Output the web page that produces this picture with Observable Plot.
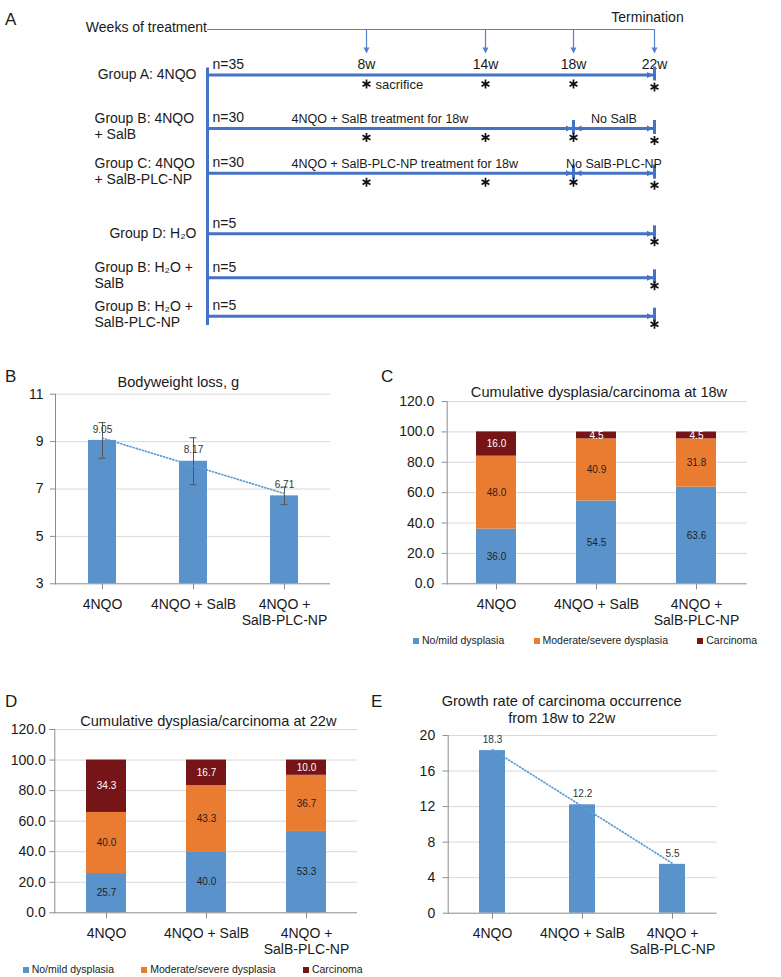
<!DOCTYPE html>
<html><head><meta charset="utf-8">
<script src="https://cdn.jsdelivr.net/npm/d3@7"></script>
<script src="https://cdn.jsdelivr.net/npm/@observablehq/plot@0.6"></script>
<style>
body{margin:0;background:#fff;}
#page{position:relative;width:781px;height:977px;overflow:hidden;font-family:"Liberation Sans",Arial,Helvetica,sans-serif;color:#1a1a1a;background:#fff;}
#page svg{overflow:visible;}
.letter{position:absolute;font-size:17px;line-height:17px;}
.title{position:absolute;font-size:14.6px;line-height:16px;text-align:center;white-space:nowrap;transform:translateX(-50%);}
.legend{position:absolute;display:flex;justify-content:space-between;font-size:10.5px;line-height:12px;white-space:nowrap;}
.legend .sw{display:inline-block;width:6px;height:6px;margin-right:3px;vertical-align:0px;}
</style></head>
<body><div id="page"></div>
<script>
// ---------------- data ----------------
// Panel A: study design
const groupLabels = ["Group A: 4NQO", "Group B: 4NQO\n+ SalB", "Group C: 4NQO\n+ SalB-PLC-NP", "Group D: H₂O", "Group B: H₂O +\nSalB", "Group B: H₂O +\nSalB-PLC-NP"];
const groupN = [35, 30, 30, 5, 5, 5];
const weekMarks = [8, 14, 18, 22];
const weekLabels = ["8w", "14w", "18w", "22w"];
const terminationWeek = 22;
const groupSchedule = [[0, 22], [0, 18, 22], [0, 18, 22], [0, 22], [0, 22], [0, 22]];
const segmentLabels = [[""], ["4NQO + SalB treatment for 18w", "No SalB"], ["4NQO + SalB-PLC-NP treatment for 18w", "No SalB-PLC-NP"], [""], [""], [""]];
const sacrificeWeeks = [[8, 14, 18, 22], [8, 14, 18, 22], [8, 14, 18, 22], [22], [22], [22]];

// Panel B
const treatGroups = ["4NQO", "4NQO + SalB", "4NQO +\nSalB-PLC-NP"];
const bwLoss = [9.05, 8.17, 6.71];
const bwErr = [0.75, 0.99, 0.37];
const bwTicks = [3, 5, 7, 9, 11];

// Panels C / D
const stages = ["No/mild dysplasia", "Moderate/severe dysplasia", "Carcinoma"];
const w18NoMild = [36.0, 54.5, 63.6];
const w18Moderate = [48.0, 40.9, 31.8];
const w18Carcinoma = [16.0, 4.5, 4.5];
const w22NoMild = [25.7, 40.0, 53.3];
const w22Moderate = [40.0, 43.3, 36.7];
const w22Carcinoma = [34.3, 16.7, 10.0];
const pctTicks = [0, 20, 40, 60, 80, 100, 120];

// Panel E
const growthRate = [18.3, 12.2, 5.5];
const growthTicks = [0, 4, 8, 12, 16, 20];

// ---------------- styles ----------------
const FONT = '"Liberation Sans", Arial, Helvetica, sans-serif';
const LINE_BLUE = "#4472C4";
const HEAD_BLUE = "#5482CF";
const BAR_BLUE = "#5A93CB";
const stageColors = ["#5A93CB", "#E97C31", "#761517"];
const AXIS = "#8c8c8c";
const GRID = "#d9d9d9";
const TREND = "#5B9BD5";
const page = document.getElementById("page");

function place(el, left, top) {
  el.style.position = "absolute"; el.style.left = left + "px"; el.style.top = top + "px";
  page.appendChild(el);
}
function div(cls, text, left, top) {
  const d = document.createElement("div"); d.className = cls; d.textContent = text;
  place(d, left, top); return d;
}

// custom arrowhead symbols (tip at origin)
const triRight = {draw(c, s) {const r = Math.sqrt(s / Math.PI); c.moveTo(0, 0); c.lineTo(-2 * r, -r); c.lineTo(-2 * r, r); c.closePath();}};
const triLeft = {draw(c, s) {const r = Math.sqrt(s / Math.PI); c.moveTo(0, 0); c.lineTo(2 * r, -r); c.lineTo(2 * r, r); c.closePath();}};
const triDown = {draw(c, s) {const r = Math.sqrt(s / Math.PI) * 1.15; c.moveTo(0, 0); c.lineTo(-r, -2 * r); c.lineTo(r, -2 * r); c.closePath();}};

// ---------------- Panel A ----------------
const rows = d3.range(groupLabels.length);
const segs = [];
groupSchedule.forEach((bp, r) => { for (let k = 0; k < bp.length - 1; k++) segs.push({row: r, from: bp[k], to: bp[k + 1], text: segmentLabels[r][k] || ""}); });
const samples = [];
sacrificeWeeks.forEach((ws, r) => ws.forEach(w => samples.push({row: r, week: w})));
const astOpts = {x: "week", y: "row", symbol: "asterisk", r: 4.3, stroke: "#111", strokeWidth: 1.7, fill: "none"};

const panelA = Plot.plot({
  width: 781, height: 340, margin: 0,
  x: {type: "linear", domain: [0, 8, 14, 18, 22], range: [207, 366, 485, 573, 654], axis: null},
  y: {type: "linear", domain: [-1, 0, 1, 2, 3, 4, 5], range: [29, 74.5, 128, 172.7, 233.3, 277.3, 315.7], axis: null},
  style: {fontFamily: FONT, fontSize: "14px", color: "#1a1a1a", background: "transparent"},
  marks: [
    Plot.ruleY([-1], {x1: 0, x2: terminationWeek, stroke: HEAD_BLUE, strokeWidth: 1.2}),
    Plot.ruleX(weekMarks, {x: d => d, y1: -1, y2: -1, insetBottom: -19, stroke: HEAD_BLUE, strokeWidth: 1.2}),
    Plot.dot(weekMarks, {x: d => d, y: -1, dy: 24, symbol: triDown, r: 2.6, fill: HEAD_BLUE, stroke: "none"}),
    Plot.text(["Weeks of treatment"], {x: 0, y: -1, textAnchor: "end", dx: -0.5, dy: -1.5, fontSize: 14}),
    Plot.text(["Termination"], {x: terminationWeek, y: -1, dx: -7, dy: -12, fontSize: 14}),
    Plot.text(weekLabels, {x: (d, i) => weekMarks[i], y: 0, dy: -10.5, fontSize: 14}),
    Plot.ruleX([0], {y1: 0, y2: rows.length - 1, insetTop: -7, insetBottom: -9.3, stroke: LINE_BLUE, strokeWidth: 3}),
    Plot.ruleY(segs, {y: "row", x1: "from", x2: "to", stroke: LINE_BLUE, strokeWidth: 3}),
    Plot.ruleX(segs, {x: "to", y1: "row", y2: "row", insetTop: -8, insetBottom: -6, stroke: LINE_BLUE, strokeWidth: 3}),
    Plot.dot(segs, {x: "to", y: "row", dx: -1.5, symbol: triRight, r: 3, fill: LINE_BLUE, stroke: "none"}),
    Plot.dot(segs.filter(s => s.from > 0), {x: "from", y: "row", dx: 2, symbol: triLeft, r: 3, fill: LINE_BLUE, stroke: "none"}),
    Plot.text(segs.filter(s => s.from === 0 && s.text), {x: "from", y: "row", text: "text", textAnchor: "start", dx: 84, dy: -9.5, fontSize: 12.5}),
    Plot.text(segs.filter(s => s.from > 0 && s.text), {x: s => (s.from + s.to) / 2, y: "row", text: "text", dy: -9.5, fontSize: 12.5}),
    Plot.text(rows.filter(r => !groupLabels[r].includes("\n")), {x: 0, y: r => r, text: r => groupLabels[r], textAnchor: "end", dx: -11, dy: -0.5, fontSize: 14}),
    Plot.text(rows.filter(r => groupLabels[r].includes("\n")), {x: 0, y: r => r, text: r => groupLabels[r], textAnchor: "start", dx: -113, dy: -2.5, lineHeight: 1.13, fontSize: 14}),
    Plot.text(rows, {x: 0, y: r => r, text: r => "n=" + groupN[r], textAnchor: "start", dx: 5, dy: -10.5, fontSize: 14}),
    Plot.dot(samples.filter(s => s.week < terminationWeek), {...astOpts, dy: 9}),
    Plot.dot(samples.filter(s => s.week === terminationWeek && s.row < 3), {...astOpts, dy: 12}),
    Plot.dot(samples.filter(s => s.week === terminationWeek && s.row >= 3), {...astOpts, dy: 8}),
    Plot.text(["sacrifice"], {x: weekMarks[0], y: 0, textAnchor: "start", dx: 9, dy: 9.5, fontSize: 13})
  ]
});
place(panelA, 0, 0);
div("letter", "A", 5, 10.8);

// ---------------- helpers ----------------
function axesMarks(ticks, fmt, yMin, tickPadding) {
  return [
    Plot.ruleY([yMin], {stroke: AXIS}),
    Plot.frame({anchor: "left", stroke: AXIS}),
    Plot.axisY({ticks, tickFormat: fmt, tickSize: 5, tickPadding, fontSize: 14, stroke: AXIS, label: null}),
    Plot.axisX({tickSize: 6, tickPadding: 8, fontSize: 14, lineHeight: 1.12, stroke: AXIS, label: null})
  ];
}
function trendOf(values) {
  const xs = values.map((_, i) => i);
  const mx = d3.mean(xs), my = d3.mean(values);
  const slope = d3.sum(xs, (x, i) => (x - mx) * (values[i] - my)) / d3.sum(xs, x => (x - mx) ** 2);
  return treatGroups.map((g, i) => ({g, fit: my + slope * (i - mx)}));
}
const trendStyle = {stroke: TREND, strokeWidth: 1.7, strokeDasharray: "1,2.2", strokeLinecap: "round"};
const baseStyle = {fontFamily: FONT, fontSize: "14px", color: "#1a1a1a", background: "transparent"};

// ---------------- Panel B ----------------
const bwData = treatGroups.map((g, i) => ({g, v: bwLoss[i], e: bwErr[i]}));
const panelB = Plot.plot({
  width: 345, height: 270, marginLeft: 55, marginRight: 15, marginTop: 33.7, marginBottom: 46.7,
  x: {domain: treatGroups, range: [55, 330], paddingInner: 0.695, paddingOuter: 0.3475},
  y: {domain: [bwTicks[0], bwTicks[bwTicks.length - 1]]},
  style: baseStyle,
  marks: [
    Plot.gridY(bwTicks.slice(1), {stroke: GRID, strokeOpacity: 1}),
    Plot.barY(bwData, {x: "g", y1: bwTicks[0], y2: "v", fill: BAR_BLUE}),
    Plot.ruleX(bwData, {x: "g", y1: d => d.v - d.e, y2: d => d.v + d.e, stroke: "#555", strokeWidth: 1}),
    Plot.tickY(bwData, {x: "g", y: d => d.v + d.e, stroke: "#555", insetLeft: 10.5, insetRight: 10.5}),
    Plot.tickY(bwData, {x: "g", y: d => d.v - d.e, stroke: "#555", insetLeft: 10.5, insetRight: 10.5}),
    Plot.line(trendOf(bwLoss), {x: "g", y: "fit", ...trendStyle}),
    Plot.text(bwData, {x: "g", y: "v", text: d => d.v.toFixed(2), dy: -11, fontSize: 10, fill: "#333"}),
    ...axesMarks(bwTicks, d => String(d), bwTicks[0], 7)
  ]
});
place(panelB, 0, 360);
div("letter", "B", 5, 368);
div("title", "Bodyweight loss, g", 178.3, 373.5);

// ---------------- Panels C / D (stacked) ----------------
function stackRows(seriesArrays) {
  const out = [];
  treatGroups.forEach((g, i) => {
    let acc = 0;
    seriesArrays.forEach((arr, j) => { out.push({g, series: stages[j], y1: acc, y2: acc + arr[i], v: arr[i]}); acc += arr[i]; });
  });
  return out;
}
function stackedPlot(stacked, opts) {
  return Plot.plot({
    width: 390, height: opts.height, marginLeft: opts.ml, marginRight: 390 - opts.gridEnd, marginTop: opts.mt, marginBottom: opts.mb,
    x: {domain: treatGroups, range: opts.xr, paddingInner: 0.6, paddingOuter: 0.3},
    y: {domain: [0, 120]},
    color: {domain: stages, range: stageColors},
    style: baseStyle,
    marks: [
      Plot.gridY(pctTicks.slice(1), {stroke: GRID, strokeOpacity: 1}),
      Plot.barY(stacked, {x: "g", y1: "y1", y2: "y2", fill: "series"}),
      Plot.text(stacked.filter(d => d.series !== stages[2]), {x: "g", y: d => (d.y1 + d.y2) / 2, text: d => d.v.toFixed(1), fontSize: 10, fill: "#1f1f1f"}),
      Plot.text(stacked.filter(d => d.series === stages[2]), {x: "g", y: d => (d.y1 + d.y2) / 2, text: d => d.v.toFixed(1), fontSize: 10, fill: "#fff"}),
      ...axesMarks(pctTicks, d => d.toFixed(1), 0, opts.tp)
    ]
  });
}
function legend(left, top, width) {
  const lg = document.createElement("div"); lg.className = "legend"; lg.style.width = width + "px";
  stages.forEach((s, i) => {
    const it = document.createElement("span");
    const sw = document.createElement("span"); sw.className = "sw"; sw.style.background = stageColors[i];
    it.appendChild(sw); it.appendChild(document.createTextNode(s)); lg.appendChild(it);
  });
  place(lg, left, top);
}

const panelC = stackedPlot(stackRows([w18NoMild, w18Moderate, w18Carcinoma]), {height: 270, ml: 66.7, gridEnd: 366.7, mt: 41, mb: 46.7, xr: [66, 366], tp: 8});
place(panelC, 380, 360);
div("letter", "C", 381, 368);
div("title", "Cumulative dysplasia/carcinoma at 18w", 599, 384);
legend(413, 634, 344);

const panelD = stackedPlot(stackRows([w22NoMild, w22Moderate, w22Carcinoma]), {height: 275, ml: 54.3, gridEnd: 357, mt: 39, mb: 52.7, xr: [56, 356], tp: 4});
place(panelD, 0, 690);
div("letter", "D", 5, 693);
div("title", "Cumulative dysplasia/carcinoma at 22w", 208.3, 712.5);
legend(22.7, 963, 340);

// ---------------- Panel E ----------------
const grData = treatGroups.map((g, i) => ({g, v: growthRate[i]}));
const panelE = Plot.plot({
  width: 391, height: 275, marginLeft: 57.7, marginRight: 64.3, marginTop: 45, marginBottom: 52.3,
  x: {domain: treatGroups, range: [56, 327], paddingInner: 0.712, paddingOuter: 0.356},
  y: {domain: [0, 20]},
  style: baseStyle,
  marks: [
    Plot.gridY(growthTicks.slice(1), {stroke: GRID, strokeOpacity: 1}),
    Plot.barY(grData, {x: "g", y: "v", fill: BAR_BLUE}),
    Plot.line(trendOf(growthRate), {x: "g", y: "fit", ...trendStyle}),
    Plot.text(grData, {x: "g", y: "v", text: d => d.v.toFixed(1), dy: -11, fontSize: 10, fill: "#333"}),
    ...axesMarks(growthTicks, d => String(d), 0, 8)
  ]
});
place(panelE, 390, 690);
div("letter", "E", 371, 693);
const te = div("title", "", 561.7, 693.4);
te.style.lineHeight = "17px";
te.innerHTML = "Growth rate of carcinoma occurrence<br>from 18w to 22w";
</script>
</body></html>
